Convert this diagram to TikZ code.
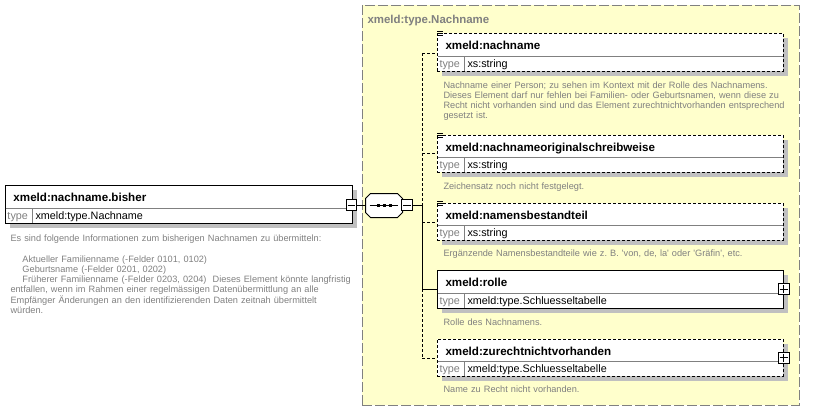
\documentclass[tikz,border=0pt]{standalone}
\usepackage{fontspec}
\setmainfont{Liberation Sans}
\usetikzlibrary{calc,fit}
\definecolor{yel}{RGB}{255,255,204}
\definecolor{shd}{RGB}{192,192,192}
\definecolor{gtx}{RGB}{128,128,128}
\frenchspacing
\tikzset{
 nm/.style={anchor=base west, inner sep=0, font=\fontsize{8.7pt}{10pt}\selectfont\bfseries},
 gtitle/.style={anchor=base west, inner sep=0, text=gtx, font=\fontsize{8.6pt}{10pt}\selectfont\bfseries},
 tk/.style={anchor=base west, inner sep=0, text=gtx, font=\fontsize{8.1pt}{10pt}\selectfont},
 tv/.style={anchor=base west, inner sep=0, font=\fontsize{8.1pt}{10pt}\selectfont},
 desc/.style={anchor=base west, inner sep=0, text=gtx, text width=300pt, align=left, font=\fontsize{6.9pt}{7.7pt}\selectfont\frenchspacing},
 elsolid/.style={draw=black, fill=white, inner sep=0},
 eldashed/.style={draw=black, fill=white, inner sep=0, dash pattern=on 2.25pt off 1.5pt},
 sepline/.style={draw=gtx},
 grp/.style={draw=gtx, fill=yel, inner sep=0, dash pattern=on 7.5pt off 2.25pt},
 conn/.style={draw=black},
 dconn/.style={draw=black, dash pattern=on 2.25pt off 1.5pt},
 tog/.style={draw=black, fill=white, inner sep=0, minimum size=8pt},
 seqanchor/.style={inner sep=0, minimum width=27pt, minimum height=17.25pt},
}
% #1 name, #2 style, #3 left, #4 right, #5 top, #6 split, #7 bottom, #8 title, #9 type
\newcommand\ElemBox[9]{%
 \fill[shd] ({#3+5},{#5+5}) rectangle ({#4+5},{#7+5});
 \node[#2, fit={(#3,#5) (#4,#7)}] (#1) {};
 \draw[sepline] ({#3+0.5},{#6}) -- ({#4-0.5},{#6});
 \draw[sepline] ({#3+27},{#6}) -- ({#3+27},{#7-0.5});
 \node[nm] (#1-n) at ({#3+8},{#5+16}) {#8};
 \node[tk] (#1-k) at ({#3+2},{#6+11}) {type};
 \node[tv] (#1-v) at ({#3+30},{#6+11}) {#9};
}
\newcommand\OptIcon[1]{%
 \foreach \dd in {-1,1,3}{\draw ($(#1.north west)+(0.5,\dd)$) -- ++(5.5,0);}%
}
\newcommand\OctPath{%
 ($(seq.north west)+(5,0)$) -- ($(seq.north east)+(-5,0)$) -- ($(seq.north east)+(0,5)$)
 -- ($(seq.south east)+(0,-5)$) -- ($(seq.south east)+(-5,0)$) -- ($(seq.south west)+(5,0)$)
 -- ($(seq.south west)+(0,-5)$) -- ($(seq.north west)+(0,5)$) -- cycle}
\begin{document}
\begin{tikzpicture}[x=0.75pt,y=-0.75pt,line width=0.75pt]
\useasboundingbox (0,0) rectangle (818,411);
% group
\node[grp, fit={(362,5) (799,405)}] (grp) {};
\node[gtitle] (gt) at (367,23) {xmeld:type.Nachname};
% main element
\ElemBox{main}{elsolid}{5}{352}{185}{208}{223}{xmeld:nachname.bisher}{xmeld:type.Nachname}
\node[desc] (main-d) at (10,241.5) {Es sind folgende Informationen zum bisherigen Nachnamen zu übermitteln:\\[7.7pt]
\hspace*{9pt}Aktueller Familienname (-Felder 0101, 0102)\\
\hspace*{9pt}Geburtsname (-Felder 0201, 0202)\\
\hspace*{9pt}Früherer Familienname (-Felder 0203, 0204)\ \ Dieses Element könnte langfristig\\
entfallen, wenn im Rahmen einer regelmässigen Datenübermittlung an alle\\
Empfänger Änderungen an den identifizierenden Daten zeitnah übermittelt\\
würden.};
% sequence compositor
\node[seqanchor] (seq) at (384,205.5) {};
\fill[shd, shift={(4,4)}] \OctPath;
\draw[fill=white] \OctPath;
\draw ($(seq.west)+(4,-0.5)$) -- ($(seq.east)+(-5,-0.5)$);
\foreach \ox in {-6,0,6}{\fill ($(seq.center)+(\ox-1.5,-2)$) rectangle ++(3,3);}
\node[tog] (m1) at (351.5,205) {};
\draw ($(m1.west)+(2,0)$) -- ($(m1.east)+(-2,0)$);
\node[tog] (m2) at (407,205) {};
\draw ($(m2.west)+(2,0)$) -- ($(m2.east)+(-2,0)$);
\draw[conn] (m1.east) -- (m1.east -| seq.west);
% trunk
\coordinate (t1) at (422,53);
\coordinate (tj) at (422,205);
\coordinate (t4) at (422,289);
\coordinate (t5) at (422,358);
\coordinate (t2) at (422,153);
\coordinate (t3) at (422,222);
\draw[conn] (m2.east) -- (tj);
\draw[dconn] (t1) -- (tj);
\draw[conn] (tj) -- (t4);
\draw[dconn] (t4) -- (t5);
% children
\ElemBox{c1}{eldashed}{437}{783}{33}{56}{71}{xmeld:nachname}{xs:string}
\OptIcon{c1}
\node[desc] (c1-d) at (443,88) {Nachname einer Person; zu sehen im Kontext mit der Rolle des Nachnamens.\\
Dieses Element darf nur fehlen bei Familien- oder Geburtsnamen, wenn diese zu\\
Recht nicht vorhanden sind und das Element zurechtnichtvorhanden entsprechend\\
gesetzt ist.};
\ElemBox{c2}{eldashed}{437}{783}{135}{157}{172}{xmeld:nachnameoriginalschreibweise}{xs:string}
\OptIcon{c2}
\node[desc] (c2-d) at (443,189) {Zeichensatz noch nicht festgelegt.};
\ElemBox{c3}{eldashed}{437}{783}{203}{225}{240}{xmeld:namensbestandteil}{xs:string}
\OptIcon{c3}
\node[desc] (c3-d) at (443,256) {Ergänzende Namensbestandteile wie z.\ B. \textquotesingle von, de, la\textquotesingle{} oder \textquotesingle Gräfin\textquotesingle, etc.};
\ElemBox{c4}{elsolid}{437}{783}{270}{293}{308}{xmeld:rolle}{xmeld:type.Schluesseltabelle}
\node[desc] (c4-d) at (443,325) {Rolle des Nachnamens.};
\ElemBox{c5}{eldashed}{437}{783}{339}{361}{376}{xmeld:zurechtnichtvorhanden}{xmeld:type.Schluesseltabelle}
\node[desc] (c5-d) at (443,392) {Name zu Recht nicht vorhanden.};
% plus toggles
\node[tog, minimum size=8.25pt] (p4) at (783.5,289) {};
\draw ($(p4.west)+(2,0)$) -- ($(p4.east)+(-2,0)$) ($(p4.north)+(0,2)$) -- ($(p4.south)+(0,-2)$);
\node[tog, minimum size=8.25pt] (p5) at (783.5,357.5) {};
\draw ($(p5.west)+(2,0)$) -- ($(p5.east)+(-2,0)$) ($(p5.north)+(0,2)$) -- ($(p5.south)+(0,-2)$);
% branch connectors
\draw[dconn] (t1) -- (t1 -| c1.west);
\draw[dconn] (t2) -- (t2 -| c2.west);
\draw[dconn] (t3) -- (t3 -| c3.west);
\draw[conn] (t4) -- (t4 -| c4.west);
\draw[dconn] (t5) -- (t5 -| c5.west);
\end{tikzpicture}
\end{document}
